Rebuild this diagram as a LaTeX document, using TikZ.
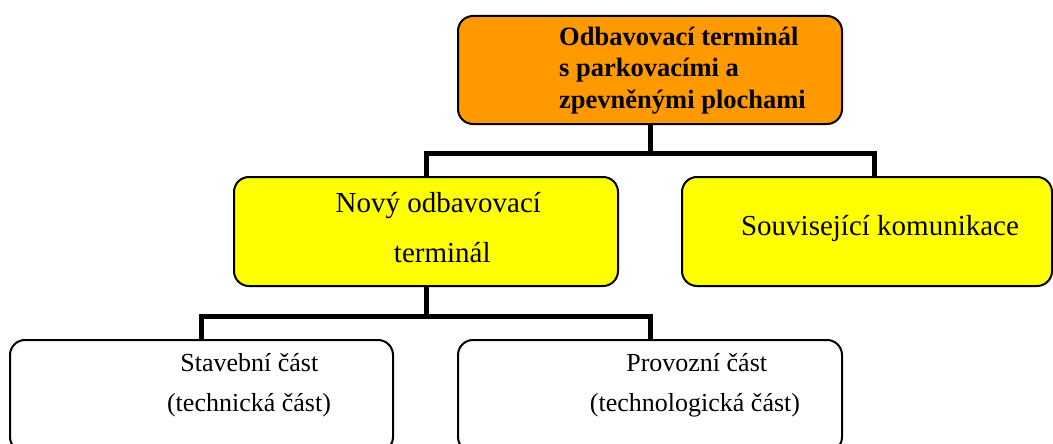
\documentclass[tikz,border=0pt]{standalone}
\usepackage{fontspec}
\setmainfont{Liberation Serif}
\definecolor{orangeC}{HTML}{FF9900}
\definecolor{yellowC}{HTML}{FFFF00}
\begin{document}
\begin{tikzpicture}[x=1pt,y=-1pt,
  box/.style={draw=black, line width=2pt, rounded corners=15pt, inner sep=0pt},
  conn/.style={draw=black, line width=5pt},
  tb/.style={inner sep=0pt, font=\bfseries\fontsize{26.5}{31}\selectfont, anchor=base west},
  ty/.style={inner sep=0pt, font=\fontsize{29}{34}\selectfont, anchor=base},
  tw/.style={inner sep=0pt, font=\fontsize{26}{31}\selectfont, anchor=base}]
\useasboundingbox (0,0) rectangle (1053,444);
\clip (0,0) rectangle (1053,444);

% boxes
\node[box, fill=orangeC, minimum width=384pt, minimum height=108pt] (top) at (650,70) {};
\node[box, fill=yellowC, minimum width=384pt, minimum height=109pt] (yl) at (426,231.5) {};
\node[box, fill=yellowC, minimum width=370pt, minimum height=109pt] (yr) at (867,231.5) {};
\node[box, fill=white, minimum width=383pt, minimum height=112pt] (wl) at (201.5,396) {};
\node[box, fill=white, minimum width=384pt, minimum height=112pt] (wr) at (650,396) {};

% connectors
\coordinate (j1) at (650,153);
\coordinate (yrc) at (874,177);
\coordinate (j2) at (426,316);
\draw[conn] (top.south) -- (j1);
\draw[conn] (yl.north) |- (j1) -| (yrc);
\draw[conn] (yl.south) -- (j2);
\draw[conn] (wl.north) |- (j2) -| (wr.north);

% texts
\node[tb] (t1) at (559,45.7) {Odbavovací terminál};
\node[tb] (t2) at (559,77) {s parkovacími a};
\node[tb] (t3) at (559,108.3) {zpevněnými plochami};

\node[ty] (y1) at (438.3,212) {Nový odbavovací};
\node[ty] (y2) at (442.3,262) {terminál};
\node[ty] (y3) at (880,235) {Související komunikace};

\node[tw] (w1) at (249.3,371.7) {Stavební část};
\node[tw] (w2) at (249,411) {(technická část)};
\node[tw] (w3) at (696.7,371.7) {Provozní část};
\node[tw] (w4) at (695,411.5) {(technologická část)};
\end{tikzpicture}
\end{document}
